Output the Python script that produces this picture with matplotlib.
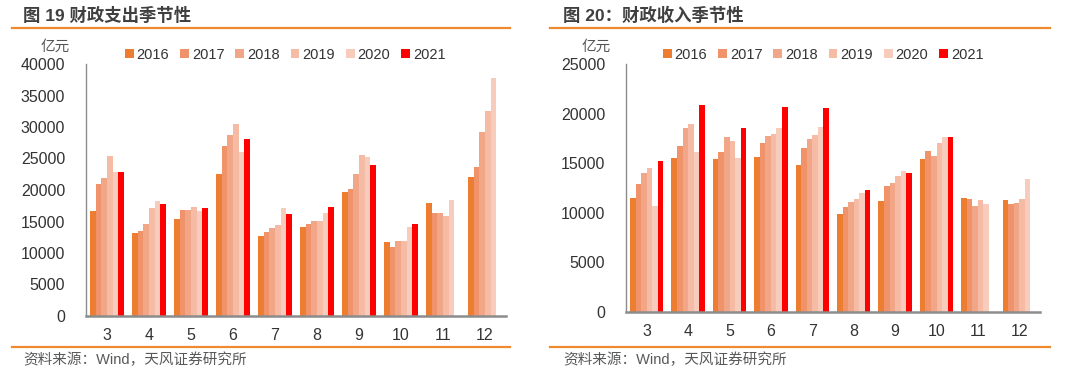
import matplotlib
matplotlib.use("Agg")
import matplotlib.pyplot as plt
import numpy as np

months = ["3", "4", "5", "6", "7", "8", "9", "10", "11", "12"]
years = ["2016", "2017", "2018", "2019", "2020", "2021"]

# 财政支出 (亿元)
exp_2016 = [16700, 13100, 15400, 22600, 12700, 14200, 19700, 11800, 17900, 22100]
exp_2017 = [21000, 13500, 16900, 27000, 13400, 14600, 20200, 11000, 16400, 23700]
exp_2018 = [21900, 14600, 16900, 28800, 13900, 15100, 22600, 11900, 16400, 29200]
exp_2019 = [25400, 17100, 17350, 30500, 14400, 15100, 25500, 11900, 15850, 32500]
exp_2020 = [22900, 18300, 16600, 26100, 17100, 16400, 25200, 14200, 18400, 37700]
exp_2021 = [22900, 17700, 17100, 28100, 16200, 17350, 23900, 14600, np.nan, np.nan]

# 财政收入 (亿元)
rev_2016 = [11460, 15560, 15460, 15660, 14790, 9850, 11200, 15400, 11460, 11260]
rev_2017 = [12870, 16770, 16100, 17040, 16500, 10600, 12700, 16200, 11360, 10830]
rev_2018 = [14000, 18500, 17640, 17700, 17400, 11100, 13000, 15700, 10700, 11000]
rev_2019 = [14500, 18950, 17240, 17900, 17800, 11360, 13700, 17000, 11260, 11400]
rev_2020 = [10700, 16100, 15560, 18500, 18600, 12000, 14200, 17600, 10900, 13400]
rev_2021 = [15260, 20900, 18500, 20630, 20530, 12300, 13950, 17600, np.nan, np.nan]

exp_series = [exp_2016, exp_2017, exp_2018, exp_2019, exp_2020, exp_2021]
rev_series = [rev_2016, rev_2017, rev_2018, rev_2019, rev_2020, rev_2021]

colors = ["#ED7D31", "#F0926A", "#F2A688", "#F5BBA4", "#F7CCBC", "#FF0000"]
FONT = ["Liberation Sans", "Noto Sans CJK SC", "DejaVu Sans"]
plt.rcParams["font.family"] = FONT

fig = plt.figure(figsize=(10.8, 3.78), dpi=100)
W, H = 1080, 378


def fx(px):
    return px / W


def fy(py):
    return 1 - py / H


def panel(rect, series, ymax, ystep, title, tx, line_x0, line_x1, unit_x, leg_x):
    ax = fig.add_axes(rect)
    x = np.arange(len(months))
    bw = 0.135
    for i, (vals, c, yr) in enumerate(zip(series, colors, years)):
        ax.bar(x + (i - 2.5) * bw, vals, width=bw, color=c, label=yr, linewidth=0)
    ax.set_xlim(-0.5, len(months) - 0.5)
    ax.set_ylim(0, ymax)
    ax.set_yticks(np.arange(0, ymax + 1, ystep))
    ax.set_xticks(x)
    ax.set_xticklabels(months)
    for s in ["top", "right"]:
        ax.spines[s].set_visible(False)
    ax.spines["left"].set_color("#8C8C8C")
    ax.spines["left"].set_linewidth(1.0)
    ax.spines["bottom"].set_color("#8C8C8C")
    ax.spines["bottom"].set_linewidth(1.8)
    ax.tick_params(axis="x", length=0, pad=9, labelsize=11.5, labelcolor="#333333")
    ax.tick_params(axis="y", length=0, pad=15, labelsize=11.5, labelcolor="#333333")
    leg = fig.legend(*ax.get_legend_handles_labels(), loc="center left",
                     bbox_to_anchor=(fx(leg_x), fy(55)), ncol=6, frameon=False,
                     handlelength=0.6, handleheight=0.6, handletextpad=0.2,
                     columnspacing=0.75, fontsize=10.5, borderpad=0, borderaxespad=0)
    for t in leg.get_texts():
        t.set_color("#333333")
    fig.text(fx(unit_x), fy(47), "亿元", ha="center", va="center", fontsize=10.5,
             color="#555555")
    fig.text(fx(tx), fy(15), title, ha="left", va="center", fontsize=12.5,
             fontweight="bold", color="#3F3F3F")
    fig.add_artist(plt.Line2D([fx(line_x0), fx(line_x1)], [fy(28), fy(28)],
                              color="#F08A2E", lw=1.6, transform=fig.transFigure))
    fig.add_artist(plt.Line2D([fx(line_x0), fx(line_x1)], [fy(347), fy(347)],
                              color="#F08A2E", lw=1.6, transform=fig.transFigure))
    fig.text(fx(tx), fy(360), "资料来源：Wind，天风证券研究所", ha="left", va="center",
             fontsize=10.5, color="#595959")
    return ax


panel([fx(86), fy(316), fx(506) - fx(86), fy(64) - fy(316)], exp_series, 40000, 5000,
      "图 19 财政支出季节性", 23, 12, 510, 55, 125)
panel([fx(626), fy(311.7), fx(1040) - fx(626), fy(64) - fy(311.7)], rev_series, 25000, 5000,
      "图 20：财政收入季节性", 563, 550, 1050, 596, 663)

fig.savefig("out.png", dpi=100)
